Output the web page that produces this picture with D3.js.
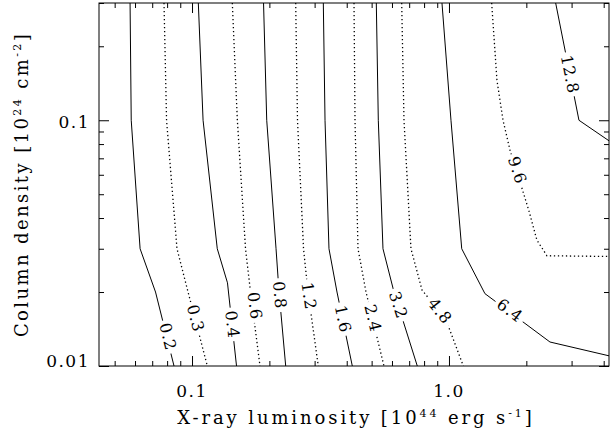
<!DOCTYPE html>
<html><head><meta charset="utf-8">
<script src="https://cdn.jsdelivr.net/npm/d3@7"></script>
<style>body{margin:0;background:#fff}svg{display:block}</style>
</head><body>
<svg id="chart" width="610" height="434"></svg>
<script>
// ---- data (luminosity [1e44 erg/s], column density [1e24 cm^-2]) ----
const levels = [0.2, 0.3, 0.4, 0.6, 0.8, 1.2, 1.6, 2.4, 3.2, 4.8, 6.4, 9.6, 12.8];
const line_0_2 = [[0.0574,0.3],[0.0580,0.1],[0.0628,0.03],[0.0721,0.02],[0.0851,0.01]];
const line_0_3 = [[0.0778,0.3],[0.0796,0.1],[0.0874,0.03],[0.0965,0.02],[0.1147,0.01]];
const line_0_4 = [[0.1058,0.3],[0.1104,0.1],[0.1254,0.03],[0.1374,0.0218],[0.1490,0.01]];
const line_0_6 = [[0.1435,0.3],[0.1501,0.1],[0.1615,0.03],[0.1689,0.02],[0.1839,0.01]];
const line_0_8 = [[0.1898,0.3],[0.1953,0.1],[0.2123,0.03],[0.2181,0.02],[0.2315,0.01]];
const line_1_2 = [[0.2532,0.3],[0.2573,0.1],[0.2716,0.03],[0.2827,0.02],[0.3100,0.01]];
const line_1_6 = [[0.3243,0.3],[0.3293,0.1],[0.3412,0.03],[0.3666,0.02],[0.4205,0.01]];
const line_2_4 = [[0.4270,0.3],[0.4308,0.1],[0.4425,0.03],[0.4754,0.02],[0.5584,0.01]];
const line_3_2 = [[0.5214,0.3],[0.5308,0.1],[0.5535,0.03],[0.6109,0.02],[0.7528,0.01]];
const line_4_8 = [[0.6546,0.3],[0.6682,0.1],[0.7113,0.03],[0.7851,0.0204],[0.9734,0.0154],[1.137,0.01]];
const line_6_4 = [[0.9392,0.3],[1.018,0.1],[1.121,0.03],[1.380,0.0197],[2.472,0.01252],[4.195,0.0110]];
const line_9_6 = [[1.466,0.3],[1.537,0.1454],[1.623,0.1],[1.728,0.0755],[1.923,0.0529],[2.048,0.0427],[2.199,0.0325],[2.406,0.0281],[4.195,0.0279]];
const line_12_8 = [[2.601,0.3],[3.205,0.1],[4.195,0.0825]];
const contourLines = [line_0_2, line_0_3, line_0_4, line_0_6, line_0_8, line_1_2, line_1_6,
                      line_2_4, line_3_2, line_4_8, line_6_4, line_9_6, line_12_8];
const labelLum = [0.0806, 0.1033, 0.1435, 0.1754, 0.2195, 0.2852, 0.3868, 0.5061, 0.6349, 0.9225, 1.728, 1.844, 2.957];
const labelNH  = [0.01315, 0.01563, 0.01477, 0.01758, 0.01944, 0.01926, 0.01553, 0.01563, 0.0177, 0.01674, 0.01684, 0.0626, 0.1538];

const xMinorTicks = [0.05,0.06,0.07,0.08,0.09,0.2,0.3,0.4,0.5,0.6,0.7,0.8,0.9,2,3,4];
const xMajorTicks = [0.1, 1];
const xTickLabels = ["0.1", "1.0"];
const yMinorTicks = [0.02,0.03,0.04,0.05,0.06,0.07,0.08,0.09,0.2,0.3];
const yMajorTicks = [0.01, 0.1];
const yTickLabels = ["0.01", "0.1"];

// ---- layout ----
const L = 99, R = 609, T = 3, B = 366;
const FONT = "'DejaVu Serif', serif";
const svg = d3.select("#chart");
svg.append("rect").attr("width",610).attr("height",434).attr("fill","#fff");

const x = d3.scaleLog().domain([0.04345, 4.195]).range([L, R]);
const y = d3.scaleLog().domain([0.01, 0.3]).range([B, T]);

svg.append("defs").append("clipPath").attr("id","clip")
  .append("rect").attr("x",L).attr("y",T).attr("width",R-L).attr("height",B-T);

const plot = svg.append("g").attr("clip-path","url(#clip)");
const lineGen = d3.line().x(d => x(d[0])).y(d => y(d[1]));

contourLines.forEach((pts, i) => {
  plot.append("path").attr("d", lineGen(pts))
    .attr("fill","none").attr("stroke","#000")
    .attr("stroke-width", i % 2 ? 1.3 : 1)
    .attr("stroke-dasharray", i % 2 ? "1.3 2.7" : null);
});

// contour labels
contourLines.forEach((pts, i) => {
  const px = x(labelLum[i]), py = y(labelNH[i]);
  const P = pts.map(d => [x(d[0]), y(d[1])]);
  let best = Infinity, ang = 0;
  for (let k = 0; k < P.length - 1; k++) {
    const [x1,y1] = P[k], [x2,y2] = P[k+1];
    const dx = x2-x1, dy = y2-y1;
    let t = ((px-x1)*dx + (py-y1)*dy) / (dx*dx+dy*dy);
    t = Math.max(0, Math.min(1, t));
    const cx = x1+t*dx, cy = y1+t*dy;
    const dist = Math.hypot(px-cx, py-cy);
    if (dist < best) { best = dist; ang = Math.atan2(dy, dx) * 180 / Math.PI; }
  }
  if (ang > 90) ang -= 180;
  if (ang < -90) ang += 180;
  const g = plot.append("g").attr("transform", `translate(${px},${py}) rotate(${ang})`);
  const txt = String(levels[i]);
  const t = g.append("text").text(txt)
    .attr("font-family", FONT).attr("font-size", 16).attr("letter-spacing", 0.8)
    .attr("text-anchor","middle").attr("dominant-baseline","central").attr("fill","#000");
  const w = t.node().getComputedTextLength();
  g.insert("rect","text").attr("x", -w/2 - 3).attr("y", -6).attr("width", w + 6).attr("height", 12).attr("fill","#fff");
});

// axes
function styleAxis(g) {
  g.select(".domain").remove();
  g.selectAll(".tick line").attr("stroke","#000").attr("stroke-width",1);
  g.selectAll("text").remove();
}
svg.append("g").attr("transform",`translate(0,${B})`)
  .call(d3.axisBottom(x).tickValues(xMinorTicks).tickSize(-5).tickSizeOuter(0)).call(styleAxis);
svg.append("g").attr("transform",`translate(0,${B})`)
  .call(d3.axisBottom(x).tickValues(xMajorTicks).tickSize(-10).tickSizeOuter(0)).call(styleAxis);
svg.append("g").attr("transform",`translate(0,${T})`)
  .call(d3.axisTop(x).tickValues(xMinorTicks).tickSize(-5).tickSizeOuter(0)).call(styleAxis);
svg.append("g").attr("transform",`translate(0,${T})`)
  .call(d3.axisTop(x).tickValues(xMajorTicks).tickSize(-10).tickSizeOuter(0)).call(styleAxis);
svg.append("g").attr("transform",`translate(${L},0)`)
  .call(d3.axisLeft(y).tickValues(yMinorTicks).tickSize(-5).tickSizeOuter(0)).call(styleAxis);
svg.append("g").attr("transform",`translate(${L},0)`)
  .call(d3.axisLeft(y).tickValues(yMajorTicks).tickSize(-10).tickSizeOuter(0)).call(styleAxis);
svg.append("g").attr("transform",`translate(${R},0)`)
  .call(d3.axisRight(y).tickValues(yMinorTicks).tickSize(-5).tickSizeOuter(0)).call(styleAxis);
svg.append("g").attr("transform",`translate(${R},0)`)
  .call(d3.axisRight(y).tickValues(yMajorTicks).tickSize(-10).tickSizeOuter(0)).call(styleAxis);

// frame
svg.append("rect").attr("x",L).attr("y",T).attr("width",R-L).attr("height",B-T)
  .attr("fill","none").attr("stroke","#000").attr("stroke-width",1);

// tick labels
xMajorTicks.forEach((v,i) => {
  svg.append("text").attr("x", x(v)).attr("y", 397).text(xTickLabels[i])
    .attr("font-family",FONT).attr("font-size",17).attr("letter-spacing",1.5)
    .attr("text-anchor","middle").attr("fill","#000");
});
yMajorTicks.forEach((v,i) => {
  svg.append("text").attr("x", L - 9).attr("y", Math.min(y(v) + 8, B + 1)).text(yTickLabels[i])
    .attr("font-family",FONT).attr("font-size",17).attr("letter-spacing",1.5)
    .attr("text-anchor","end").attr("fill","#000");
});

// axis titles
function title(sel, parts) {
  parts.forEach(p => {
    const ts = sel.append("tspan").text(p.t);
    if (p.sup) ts.attr("font-size", 11).attr("dy", -7);
    else if (p.after) ts.attr("dy", 7);
  });
}
const xt = svg.append("text").attr("x", (L+R)/2 + 2).attr("y", 424)
  .attr("font-family",FONT).attr("font-size",18).attr("letter-spacing",2.9)
  .attr("text-anchor","middle").attr("fill","#000");
title(xt, [{t:"X-ray luminosity [10"},{t:"44",sup:true},{t:" erg s",after:true},{t:"-1",sup:true},{t:"]",after:true}]);

const yt = svg.append("text").attr("transform", `translate(28,${(T+B)/2}) rotate(-90)`)
  .attr("font-family",FONT).attr("font-size",18).attr("letter-spacing",2.4)
  .attr("text-anchor","middle").attr("fill","#000");
title(yt, [{t:"Column density [10"},{t:"24",sup:true},{t:" cm",after:true},{t:"-2",sup:true},{t:"]",after:true}]);
</script>
</body></html>
